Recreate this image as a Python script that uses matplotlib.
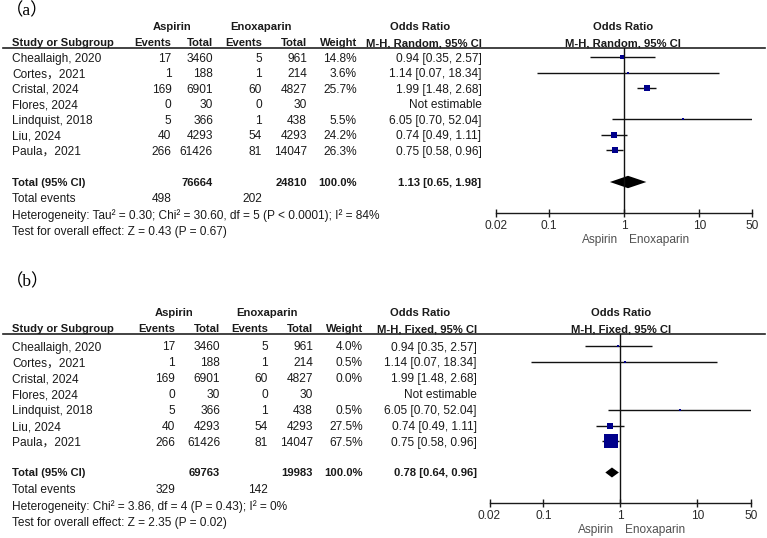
import numpy as np
import matplotlib
matplotlib.use("Agg")
import matplotlib.pyplot as plt
from matplotlib.ticker import FixedLocator, FixedFormatter, NullLocator

plt.rcParams['font.family'] = ['Liberation Sans', 'Noto Sans CJK SC']

# ---------------- data ----------------
studies = ["Cheallaigh, 2020", "Cortes\uff0c2021", "Cristal, 2024", "Flores, 2024",
           "Lindquist, 2018", "Liu, 2024", "Paula\uff0c2021"]
asp_events = [17, 1, 169, 0, 5, 40, 266]
asp_total = [3460, 188, 6901, 30, 366, 4293, 61426]
enox_events = [5, 1, 60, 0, 1, 54, 81]
enox_total = [961, 214, 4827, 30, 438, 4293, 14047]
or_est = [0.94, 1.14, 1.99, None, 6.05, 0.74, 0.75]
or_lo = [0.35, 0.07, 1.48, None, 0.70, 0.49, 0.58]
or_hi = [2.57, 18.34, 2.68, None, 52.04, 1.11, 0.96]
weight_random = [14.8, 3.6, 25.7, None, 5.5, 24.2, 26.3]
weight_fixed = [4.0, 0.5, 0.0, None, 0.5, 27.5, 67.5]

# panel summaries
panel_labels = ["\uff08a\uff09", "\uff08b\uff09"]
methods = ["M-H, Random, 95% CI", "M-H, Fixed, 95% CI"]
weights = [weight_random, weight_fixed]
pooled_total_asp = [76664, 69763]
pooled_total_enox = [24810, 19983]
pooled_events_asp = [498, 329]
pooled_events_enox = [202, 142]
pooled_or = [1.13, 0.78]
pooled_lo = [0.65, 0.64]
pooled_hi = [1.98, 0.96]
heterogeneity = [
    "Heterogeneity: Tau\u00b2 = 0.30; Chi\u00b2 = 30.60, df = 5 (P < 0.0001); I\u00b2 = 84%",
    "Heterogeneity: Chi\u00b2 = 3.86, df = 4 (P = 0.43); I\u00b2 = 0%",
]
overall = ["Test for overall effect: Z = 0.43 (P = 0.67)",
           "Test for overall effect: Z = 2.35 (P = 0.02)"]
tick_values = [0.02, 0.1, 1, 10, 50]
tick_labels = ["0.02", "0.1", "1", "10", "50"]
favours = ["Aspirin", "Enoxaparin"]

# ---------------- layout (pixels) ----------------
W, H = 767, 538
fig = plt.figure(figsize=(W / 100, H / 100), dpi=100)
bg = fig.add_axes([0, 0, 1, 1])
bg.set_xlim(0, W)
bg.set_ylim(H, 0)
bg.axis('off')

TXT = '#1a1a1a'
FS = 8.6
FSB = 8.1
NAVY = '#00008B'

layouts = [
    dict(lab_y=9, h1=26, h2=42.5, line=47.7, row0=57.3, dy=15.5, tot=182, fdy=16,
         axis_y=213, ax_x0=496, ax_x1=752,
         cols=dict(ev_a=171.5, tot_a=213, ev_e=262, tot_e=307, wt=357, ortxt=481.5),
         asp_c=172.5, enox_c=261, or_c=420, plot_c=623),
    dict(lab_y=280, h1=311.7, h2=328, line=334, row0=346, dy=15.9, tot=472.5, fdy=16.3,
         axis_y=503, ax_x0=489.5, ax_x1=751,
         cols=dict(ev_a=175, tot_a=220, ev_e=268, tot_e=313, wt=363, ortxt=476.7),
         asp_c=173.7, enox_c=266.7, or_c=420, plot_c=621),
]


def t(x, y, s, ha='left', bold=False, size=None, color=TXT, family=None):
    kw = {}
    if family is not None:
        kw['family'] = family
    bg.text(x, y, s, ha=ha, va='center_baseline',
            fontsize=size if size else (FSB if bold else FS),
            fontweight='bold' if bold else 'normal', color=color, **kw)


for p, L in enumerate(layouts):
    c = L['cols']
    # panel label
    t(6, L['lab_y'], panel_labels[p], size=12.5,
      family=['Liberation Serif', 'Noto Sans CJK TC'], color='black')
    # headers
    t(L['asp_c'], L['h1'], "Aspirin", ha='center', bold=True)
    t(L['enox_c'], L['h1'], "Enoxaparin", ha='center', bold=True)
    t(L['or_c'], L['h1'], "Odds Ratio", ha='center', bold=True)
    t(L['plot_c'], L['h1'], "Odds Ratio", ha='center', bold=True)
    t(12, L['h2'], "Study or Subgroup", bold=True)
    t(c['ev_a'], L['h2'], "Events", ha='right', bold=True)
    t(c['tot_a'], L['h2'], "Total", ha='right', bold=True)
    t(c['ev_e'], L['h2'], "Events", ha='right', bold=True)
    t(c['tot_e'], L['h2'], "Total", ha='right', bold=True)
    t(c['wt'], L['h2'], "Weight", ha='right', bold=True)
    t(c['ortxt'], L['h2'], methods[p], ha='right', bold=True)
    t(L['plot_c'], L['h2'], methods[p], ha='center', bold=True)
    bg.plot([3, 765], [L['line'], L['line']], color='#222222', lw=1.2)

    # forest axes
    ax = fig.add_axes([L['ax_x0'] / W, 1 - L['axis_y'] / H,
                       (L['ax_x1'] - L['ax_x0']) / W, (L['axis_y'] - L['line']) / H])
    ax.set_xscale('log')
    ax.set_xlim(tick_values[0], tick_values[-1])
    ax.set_ylim(L['axis_y'], L['line'])
    ax.patch.set_alpha(0)
    for s in ['top', 'left', 'right']:
        ax.spines[s].set_visible(False)
    ax.spines['bottom'].set_color('#1a1a1a')
    ax.spines['bottom'].set_linewidth(1.0)
    ax.xaxis.set_major_locator(FixedLocator(tick_values))
    ax.xaxis.set_major_formatter(FixedFormatter(tick_labels))
    ax.xaxis.set_minor_locator(NullLocator())
    ax.yaxis.set_major_locator(NullLocator())
    ax.tick_params(axis='x', direction='inout', length=5.5, width=1.0, color='#1a1a1a',
                   labelsize=FS, labelcolor='#2a2a2a', pad=2)
    ax.axvline(1, color='#111111', lw=1.0)

    wts = weights[p]
    for i, name in enumerate(studies):
        y = L['row0'] + i * L['dy']
        t(12, y, name)
        t(c['ev_a'], y, str(asp_events[i]), ha='right')
        t(c['tot_a'], y, str(asp_total[i]), ha='right')
        t(c['ev_e'], y, str(enox_events[i]), ha='right')
        t(c['tot_e'], y, str(enox_total[i]), ha='right')
        if wts[i] is not None:
            t(c['wt'], y, f"{wts[i]:.1f}%", ha='right')
        if or_est[i] is None:
            t(c['ortxt'], y, "Not estimable", ha='right')
            continue
        t(c['ortxt'], y, f"{or_est[i]:.2f} [{or_lo[i]:.2f}, {or_hi[i]:.2f}]", ha='right')
        if wts[i] and wts[i] > 0:
            ax.plot([or_lo[i], or_hi[i]], [y, y], color='#111111', lw=1.0, solid_capstyle='butt')
            side = (2 + 0.17 * wts[i]) * 0.72
            ax.plot([or_est[i]], [y], marker='s', ms=side, color=NAVY, mec=NAVY, mew=0)

    # totals
    yt = L['tot']
    t(12, yt, "Total (95% CI)", bold=True)
    t(c['tot_a'], yt, str(pooled_total_asp[p]), ha='right', bold=True)
    t(c['tot_e'], yt, str(pooled_total_enox[p]), ha='right', bold=True)
    t(c['wt'], yt, "100.0%", ha='right', bold=True)
    t(c['ortxt'], yt, f"{pooled_or[p]:.2f} [{pooled_lo[p]:.2f}, {pooled_hi[p]:.2f}]", ha='right', bold=True)
    dh = 6.2 if p == 0 else 5.0
    ax.fill([pooled_lo[p], pooled_or[p], pooled_hi[p], pooled_or[p]],
            [yt, yt - dh, yt, yt + dh], color='black', lw=0)
    t(12, yt + L['fdy'], "Total events")
    t(c['ev_a'], yt + L['fdy'], str(pooled_events_asp[p]), ha='right')
    t(c['ev_e'], yt + L['fdy'], str(pooled_events_enox[p]), ha='right')
    t(12, yt + 2 * L['fdy'], heterogeneity[p])
    t(12, yt + 3 * L['fdy'], overall[p])

    # favours labels
    one_px = L['ax_x0'] + (L['ax_x1'] - L['ax_x0']) * (0 - np.log10(tick_values[0])) / (np.log10(tick_values[-1]) - np.log10(tick_values[0]))
    t(one_px - 6, L['axis_y'] + 26, favours[0], ha='right', color='#505050')
    t(one_px + 5, L['axis_y'] + 26, favours[1], ha='left', color='#505050')

fig.savefig("out.png", dpi=100)
